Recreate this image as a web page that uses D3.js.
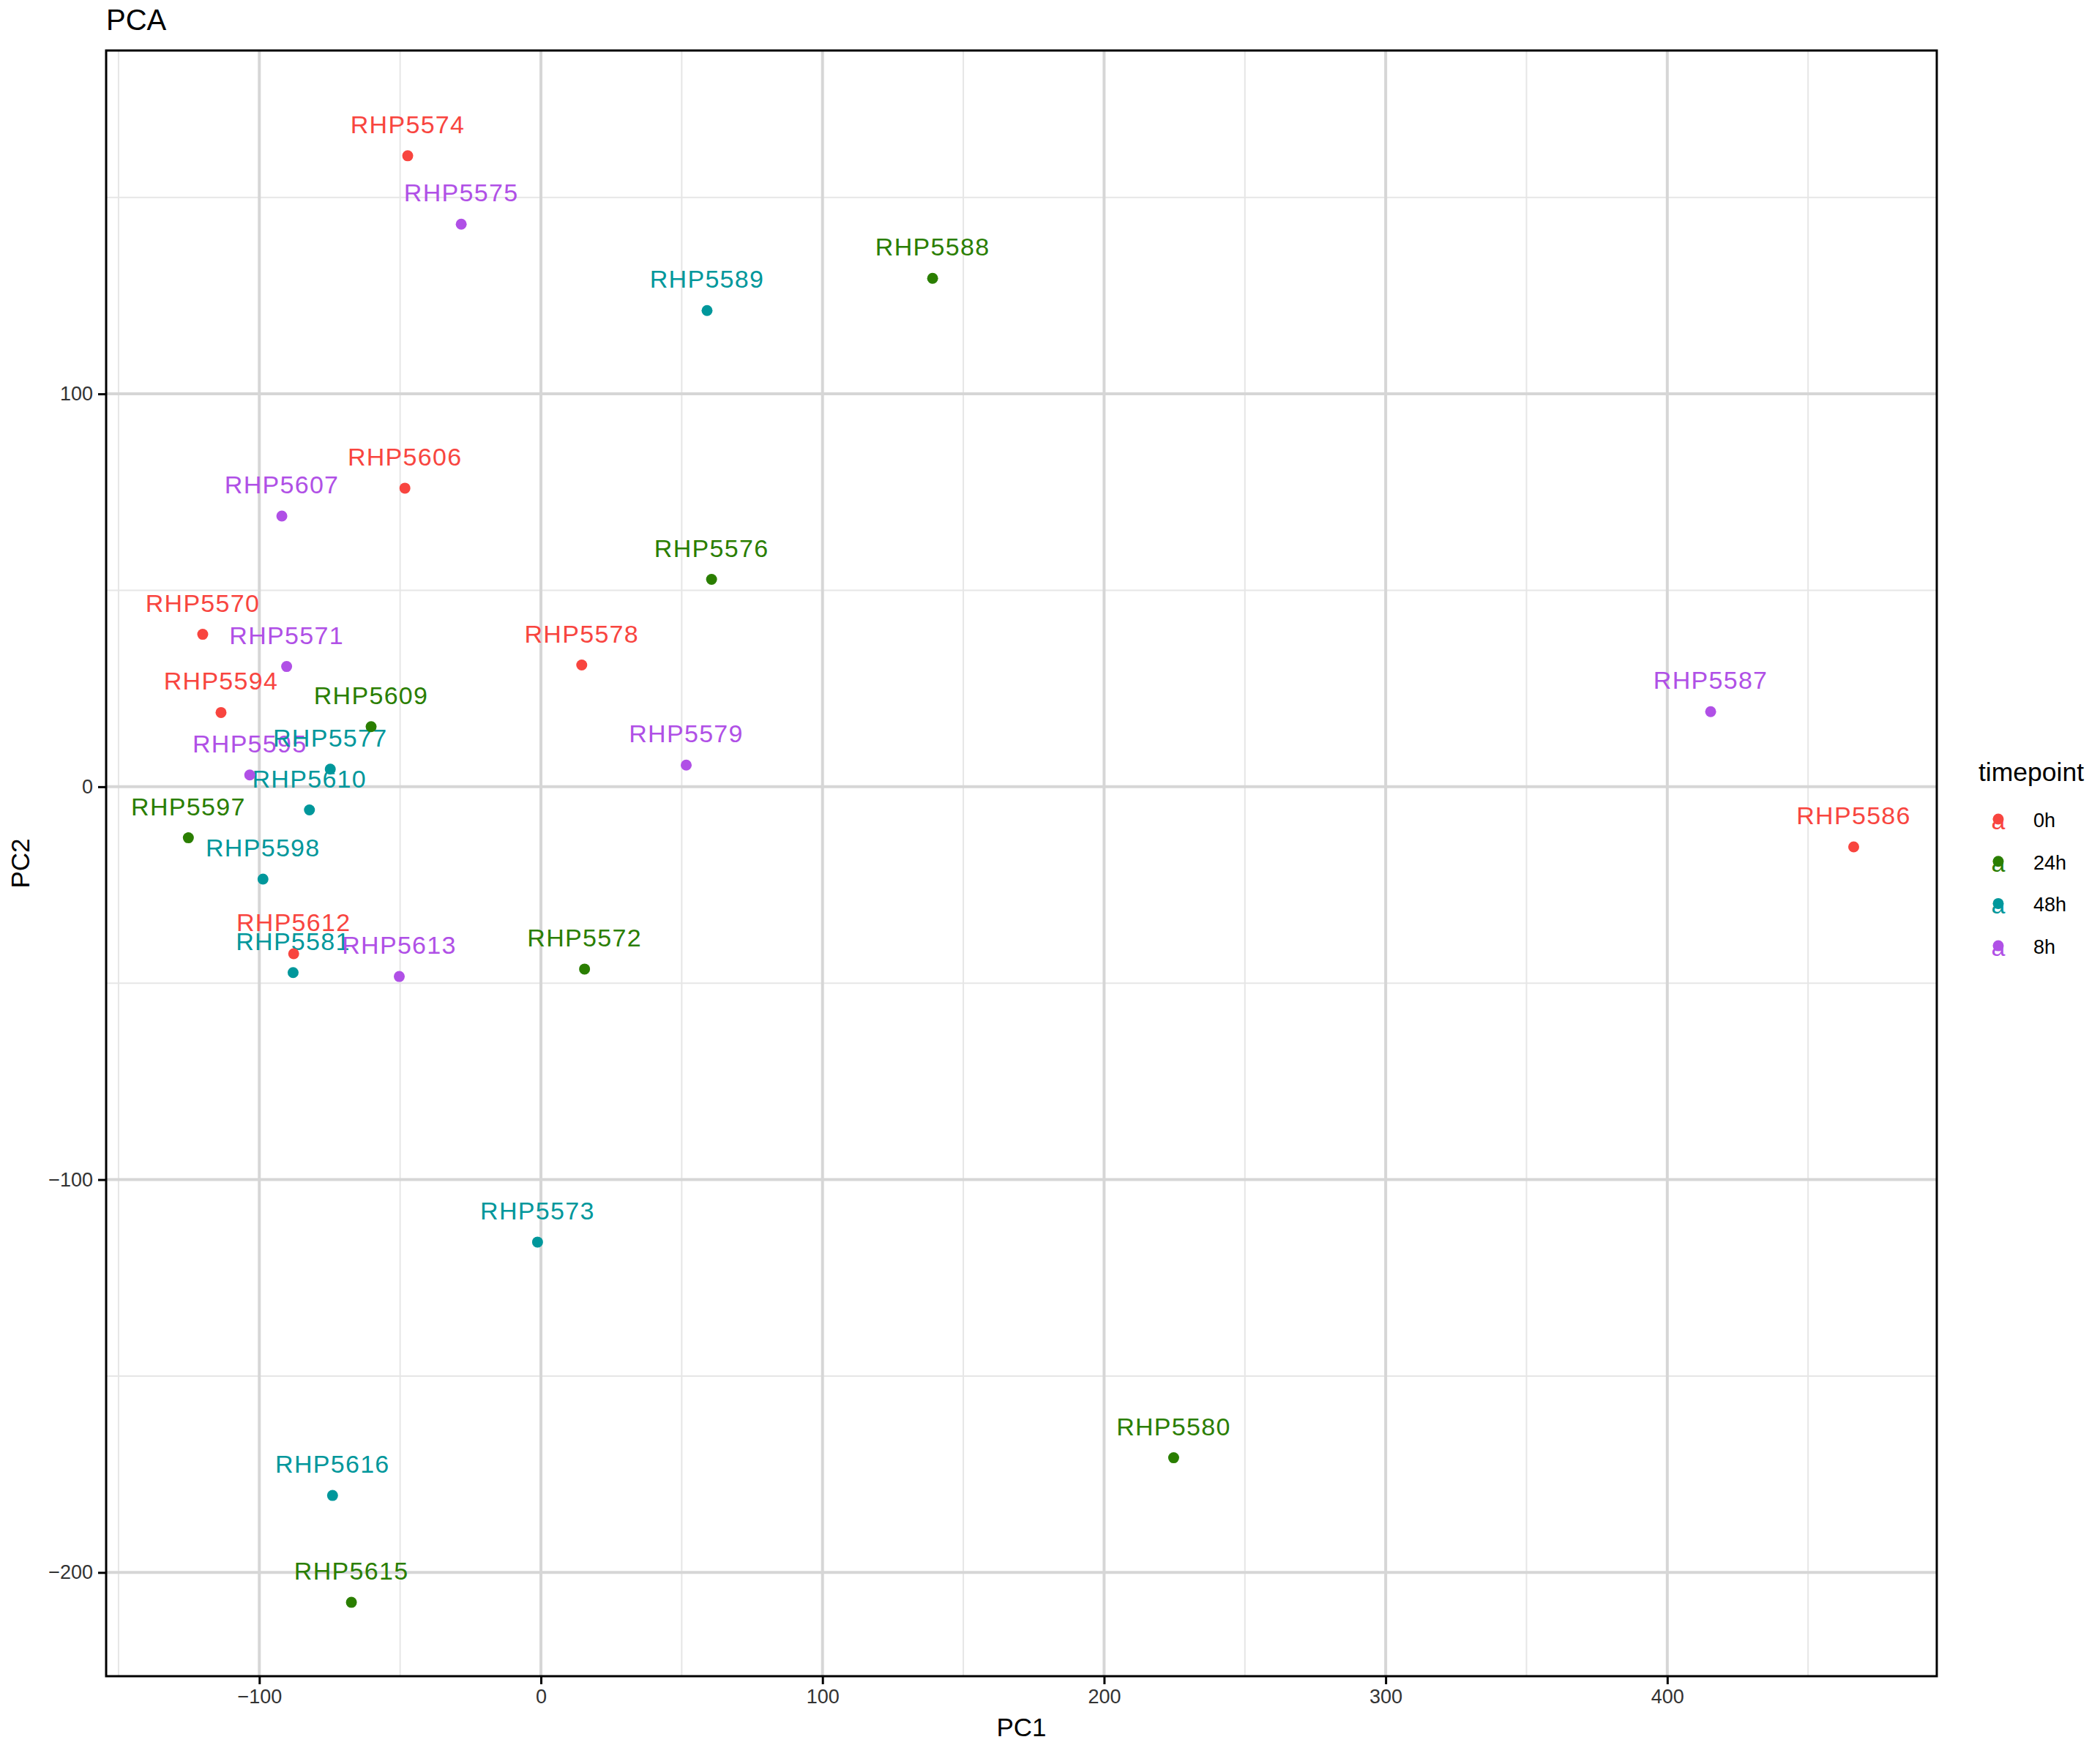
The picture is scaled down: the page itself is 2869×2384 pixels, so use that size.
<!DOCTYPE html>
<html>
<head>
<meta charset="utf-8">
<script src="https://cdn.jsdelivr.net/npm/d3@7"></script>
<style>
  html, body { margin: 0; padding: 0; background: #fff; }
  svg { display: block; font-family: "Liberation Sans", Arial, sans-serif; }
</style>
</head>
<body>
<svg id="chart" width="2869" height="2384"></svg>
<script>
// ---- data ----
const samples = ["RHP5574","RHP5575","RHP5588","RHP5589","RHP5606","RHP5607","RHP5576","RHP5570","RHP5571","RHP5578","RHP5594","RHP5609","RHP5587","RHP5579","RHP5595","RHP5577","RHP5610","RHP5597","RHP5586","RHP5598","RHP5612","RHP5581","RHP5613","RHP5572","RHP5573","RHP5580","RHP5616","RHP5615"];
const timepoints = ["0h","8h","24h","48h","0h","8h","24h","0h","8h","0h","0h","24h","8h","8h","8h","48h","48h","24h","0h","48h","0h","48h","8h","24h","48h","24h","48h","24h"];
const pc1 = [-47.3,-28.3,139.1,59.0,-48.3,-92.0,60.6,-120.1,-90.3,14.5,-113.6,-60.3,415.4,51.6,-103.4,-74.8,-82.2,-125.2,466.2,-98.7,-87.8,-88.0,-50.3,15.5,-1.2,224.7,-74.0,-67.3];
const pc2 = [160.6,143.2,129.4,121.2,76.0,68.9,52.8,38.8,30.6,31.0,18.9,15.3,19.1,5.5,3.0,4.5,-5.9,-13.0,-15.3,-23.5,-42.5,-47.3,-48.3,-46.4,-115.9,-170.8,-180.4,-207.6];
const legendLevels = ["0h","24h","48h","8h"];
const levelColors = ["#F8453F","#2A7E00","#00979B","#B050E6"];
const xTicks = [-100,0,100,200,300,400];
const yTicks = [-200,-100,0,100];
const xMinor = [-150,-50,50,150,250,350,450];
const yMinor = [-150,-50,50,150];
const labelNudge = 8;

// ---- layout ----
const P = {left:145, right:2646, top:69, bottom:2290};
const svg = d3.select("#chart");
const x = d3.scaleLinear().domain([-154.4, 495.7]).range([P.left, P.right]);
const y = d3.scaleLinear().domain([-226.4, 187.4]).range([P.bottom, P.top]);
const color = d3.scaleOrdinal().domain(legendLevels).range(levelColors);
const fmt = v => (v < 0 ? "\u2212" + Math.abs(v) : String(v));

// title
svg.append("text").attr("x", 145).attr("y", 41).attr("font-size", 40).attr("fill", "#000").text("PCA");

// panel background
svg.append("rect").attr("x", P.left).attr("y", P.top).attr("width", P.right-P.left).attr("height", P.bottom-P.top).attr("fill", "#fff");

// grid
const g = svg.append("g");
g.selectAll(".vminor").data(xMinor).join("line")
  .attr("x1", d=>x(d)).attr("x2", d=>x(d)).attr("y1", P.top).attr("y2", P.bottom)
  .attr("stroke", "#E6E6E6").attr("stroke-width", 2);
g.selectAll(".hminor").data(yMinor).join("line")
  .attr("y1", d=>y(d)).attr("y2", d=>y(d)).attr("x1", P.left).attr("x2", P.right)
  .attr("stroke", "#E6E6E6").attr("stroke-width", 2);
g.selectAll(".vmajor").data(xTicks).join("line")
  .attr("x1", d=>x(d)).attr("x2", d=>x(d)).attr("y1", P.top).attr("y2", P.bottom)
  .attr("stroke", "#D6D6D6").attr("stroke-width", 4);
g.selectAll(".hmajor").data(yTicks).join("line")
  .attr("y1", d=>y(d)).attr("y2", d=>y(d)).attr("x1", P.left).attr("x2", P.right)
  .attr("stroke", "#D6D6D6").attr("stroke-width", 4);

// data
const data = samples.map((s,i)=>({name:s, tp:timepoints[i], x:pc1[i], y:pc2[i]}));

// labels (nudged up)
svg.append("g").selectAll("text").data(data).join("text")
  .attr("x", d=>x(d.x)).attr("y", d=>y(d.y + labelNudge) + 12)
  .attr("text-anchor", "middle").attr("font-size", 34).attr("letter-spacing", 1.3)
  .attr("fill", d=>color(d.tp)).text(d=>d.name);

// points
svg.append("g").selectAll("circle").data(data).join("circle")
  .attr("cx", d=>x(d.x)).attr("cy", d=>y(d.y)).attr("r", 7.5)
  .attr("fill", d=>color(d.tp));

// panel border
svg.append("rect").attr("x", P.left).attr("y", P.top).attr("width", P.right-P.left).attr("height", P.bottom-P.top)
  .attr("fill", "none").attr("stroke", "#000").attr("stroke-width", 3);

// axes
const xAxis = d3.axisBottom(x).tickValues(xTicks).tickSize(11).tickPadding(7).tickFormat(fmt);
const yAxis = d3.axisLeft(y).tickValues(yTicks).tickSize(11).tickPadding(7).tickFormat(fmt);
const gx = svg.append("g").attr("transform", `translate(0,${P.bottom})`).call(xAxis);
const gy = svg.append("g").attr("transform", `translate(${P.left},0)`).call(yAxis);
[gx, gy].forEach(a => {
  a.select(".domain").remove();
  a.selectAll(".tick line").attr("stroke", "#000").attr("stroke-width", 3);
  a.selectAll(".tick text").attr("font-size", 27).attr("fill", "#333")
    .attr("font-family", "Liberation Sans, Arial, sans-serif");
});

// axis titles
svg.append("text").attr("x", (P.left+P.right)/2).attr("y", 2372).attr("text-anchor", "middle")
  .attr("font-size", 35).attr("fill", "#000").text("PC1");
svg.append("text").attr("transform", `translate(40,${(P.top+P.bottom)/2}) rotate(-90)`)
  .attr("text-anchor", "middle").attr("font-size", 35).attr("fill", "#000").text("PC2");

// legend
const lg = svg.append("g");
lg.append("text").attr("x", 2703).attr("y", 1067).attr("font-size", 35.5).attr("fill", "#000").text("timepoint");
const rowCenters = legendLevels.map((_,i)=>1121 + i*57.7);
legendLevels.forEach((lv,i)=>{
  const cy = rowCenters[i];
  lg.append("text").attr("x", 2730).attr("y", cy + 12).attr("text-anchor", "middle")
    .attr("font-size", 34).attr("fill", color(lv)).text("a");
  lg.append("circle").attr("cx", 2730).attr("cy", cy - 2).attr("r", 7.5).attr("fill", color(lv));
  lg.append("text").attr("x", 2778).attr("y", cy + 9).attr("font-size", 27).attr("fill", "#000").text(lv);
});
</script>
</body>
</html>
